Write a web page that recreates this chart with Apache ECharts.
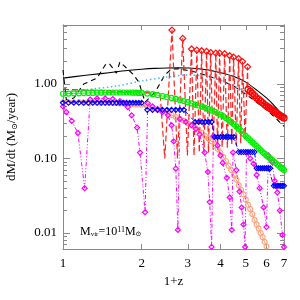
<!DOCTYPE html>
<html><head><meta charset="utf-8">
<script src="https://cdn.jsdelivr.net/npm/echarts@6/dist/echarts.min.js"></script>
<style>html,body{margin:0;padding:0;background:#fff}#c{width:300px;height:300px}</style>
</head><body><div id="c"></div>
<script>
// ---- tick labels ----
const xTickLabels = [1, 2, 3, 4, 5, 6, 7];
const yTickLabels = [0.01, 0.1, 1];
const yMinorTicks = [0.007,0.008,0.009,0.02,0.03,0.04,0.05,0.06,0.07,0.08,0.09,0.2,0.3,0.4,0.5,0.6,0.7,0.8,0.9,2,3,4,5,6];

// ---- black solid ----
const blackSolidZ = [1.0,1.2,1.4,1.6,1.8,2.0,2.25,2.5,2.75,3.0,3.3,3.6,4.0,4.5,5.0,5.5,6.0,6.5,7.0];
const blackSolidM = [1.2,1.3,1.38,1.46,1.53,1.58,1.62,1.64,1.65,1.64,1.6,1.54,1.42,1.26,1.06,0.83,0.65,0.49,0.36];

// ---- black dashed ----
const blackDashZ = [1.0,1.03,1.1,1.2,1.35,1.45,1.5,1.55,1.6,1.65,1.75,1.85,1.95,2.06,2.25,2.45,2.6,2.8,3.2,3.6,4.0,4.5,5.0,5.5,6.0,6.5,7.0];
const blackDashM = [1.54,0.61,0.65,1.0,1.2,1.8,1.9,1.64,1.4,1.97,1.64,1.36,1.06,0.57,0.78,1.32,1.59,1.6,1.45,1.28,1.13,0.94,0.73,0.57,0.45,0.35,0.27];

// ---- cyan dotted ----
const cyanZ = [1.0,1.3,1.6,2.0,2.5,3.0,3.5,4.0,4.5,5.0,5.5,6.0,6.5,7.0];
const cyanM = [0.78,0.86,0.94,1.1,1.24,1.32,1.28,1.13,0.94,0.78,0.64,0.54,0.46,0.4];

// ---- red dashed with spikes ----
const redZ = [1.0,1.2,1.4,1.6,1.8,2.0,2.2,2.35,2.45,2.61,2.74,2.87,2.99,3.1,3.17,3.25,3.32,3.39,3.46,3.54,3.6,3.67,3.75,3.84,3.9,3.97,4.06,4.15,4.25,4.34,4.42,4.49,4.6,4.69,4.78,4.86,4.97,5.08,5.09];
const redM = [0.85,0.83,0.82,0.8,0.79,0.78,0.77,0.76,0.1,5.3,0.1,4.1,0.11,2.95,0.11,2.85,0.12,2.8,0.12,2.75,0.12,2.65,0.13,2.6,0.13,2.6,0.14,2.55,0.14,2.4,0.15,2.3,0.15,2.2,0.16,2.0,0.18,1.7,0.86];

// ---- red circle band ----
const redBandZ = [5.1,5.2,5.3,5.4,5.5,5.6,5.7,5.8,5.9,6.0,6.1,6.2,6.3,6.4,6.5,6.6,6.7,6.8,6.9,7.0];
const redBandM = [0.85,0.8,0.75,0.7,0.65,0.62,0.59,0.56,0.53,0.51,0.49,0.47,0.45,0.43,0.42,0.4,0.385,0.37,0.36,0.35];

// ---- green circles ----
const greenZ = [1.0,1.05,1.1,1.15,1.2,1.25,1.3,1.35,1.4,1.45,1.5,1.55,1.6,1.65,1.7,1.75,1.8,1.85,1.9,1.95,2.0,
  2.1,2.2,2.3,2.4,2.5,2.6,2.7,2.8,2.9,3.0,3.1,3.2,3.3,3.4,3.5,3.6,3.7,3.8,3.9,4.0,4.1,4.2,4.3,4.4,4.5,4.6,4.7,4.8,4.9,5.0,
  5.1,5.2,5.3,5.4,5.5,5.6,5.7,5.8,5.9,6.0,6.1,6.2,6.3,6.4,6.5,6.6,6.7,6.8,6.9,7.0];
const greenM = [0.74,0.745,0.75,0.75,0.755,0.76,0.76,0.765,0.765,0.77,0.77,0.77,0.77,0.77,0.77,0.77,0.77,0.765,0.765,0.76,0.76,
  0.745,0.73,0.71,0.69,0.67,0.65,0.63,0.61,0.59,0.57,0.55,0.53,0.515,0.5,0.48,0.46,0.44,0.425,0.405,0.39,0.37,0.35,0.33,0.31,0.29,0.27,0.25,0.235,0.215,0.2,
  0.188,0.176,0.165,0.155,0.147,0.138,0.13,0.122,0.116,0.11,0.105,0.1,0.096,0.091,0.087,0.083,0.08,0.076,0.073,0.07];

// ---- salmon circles ----
const salmonZ = [1.0,1.05,1.1,1.15,1.2,1.25,1.3,1.35,1.4,1.45,1.5,1.55,1.6,1.65,1.7,1.75,1.8,1.85,1.9,1.95,2.0,
  2.1,2.2,2.3,2.4,2.5,2.6,2.7,2.8,2.9,3.0,3.1,3.2,3.3,3.4,3.5,3.6,3.7,3.8,3.9,4.0,4.1,4.2,4.3,4.4,4.5,4.6,4.7,4.8,4.9,5.0,
  5.1,5.2,5.3,5.4,5.5,5.6,5.7,5.8,5.9,6.0];
const salmonM = [0.57,0.57,0.57,0.57,0.565,0.565,0.565,0.56,0.56,0.56,0.56,0.555,0.555,0.55,0.55,0.545,0.54,0.54,0.535,0.53,0.53,
  0.5,0.48,0.455,0.435,0.41,0.385,0.36,0.34,0.32,0.3,0.28,0.26,0.24,0.22,0.2,0.185,0.17,0.15,0.135,0.12,0.105,0.092,0.08,0.07,0.06,0.052,0.044,0.038,0.033,0.028,
  0.024,0.021,0.018,0.015,0.013,0.0115,0.01,0.0088,0.0076,0.0066];

// ---- blue diamond steps ----
const blueZ = [1.0,1.05,1.1,1.15,1.2,1.25,1.3,1.35,1.4,1.45,1.5,1.55,1.6,1.65,1.7,1.75,1.8,1.85,1.9,1.95,2.0,
  2.1,2.2,2.3,2.4,2.5,2.6,2.7,2.8,2.9,
  3.2,3.3,3.4,3.5,3.6,3.7,
  3.8,3.9,4.0,4.1,4.2,4.3,4.4,4.5,
  4.7,4.8,4.9,5.0,5.1,5.2,5.3,5.4,
  5.5,5.6,5.7,5.8,5.9,6.0,6.1,6.2,
  6.4,6.5,6.6,6.7,6.8,6.9,7.0];
const blueM = [0.56,0.56,0.56,0.56,0.56,0.56,0.56,0.56,0.56,0.56,0.56,0.56,0.56,0.56,0.56,0.56,0.56,0.56,0.56,0.56,0.56,
  0.45,0.45,0.45,0.45,0.45,0.45,0.45,0.45,0.45,
  0.31,0.31,0.31,0.31,0.31,0.31,
  0.195,0.195,0.195,0.195,0.195,0.195,0.195,0.195,
  0.122,0.122,0.122,0.122,0.122,0.122,0.122,0.122,
  0.074,0.074,0.074,0.074,0.074,0.074,0.074,0.074,
  0.043,0.043,0.043,0.043,0.043,0.043,0.043];

// ---- magenta dash-dot with diamonds ----
const magentaZ = [1.0,1.03,1.08,1.14,1.21,1.27,1.35,1.45,1.55,1.65,1.72,1.77,1.83,1.92,1.97,2.06,
  2.11,2.2,2.3,2.4,2.52,2.6,2.65,2.7,2.75,
  2.8,2.95,3.1,3.22,3.33,3.48,3.58,3.64,3.7,
  3.76,3.9,4.0,4.08,4.23,4.34,4.42,
  4.47,4.6,4.73,4.82,4.9,4.97,
  5.03,5.2,5.35,5.5,5.65,5.85,6.0,
  6.1,6.3,6.45,6.6,6.75,6.9,7.0];
const magentaM = [0.5,0.42,0.32,0.22,0.04,0.62,0.64,0.64,0.63,0.59,0.55,0.49,0.38,0.26,0.12,0.019,
  0.55,0.5,0.46,0.42,0.38,0.28,0.17,0.073,0.011,
  0.34,0.31,0.28,0.25,0.21,0.12,0.066,0.026,0.0065,
  0.2,0.15,0.11,0.087,0.055,0.03,0.011,
  0.12,0.07,0.036,0.022,0.013,0.0065,
  0.12,0.1,0.085,0.06,0.04,0.022,0.012,
  0.11,0.09,0.05,0.035,0.02,0.0094,0.0065];

const pairs = (zs, ms) => zs.map((z, i) => [z, ms[i]]);
const serif = 'Liberation Serif, DejaVu Serif, serif';
const frame = '#8a8a8a';

function openItem(c, w) { return { color: 'rgba(0,0,0,0)', borderColor: c, borderWidth: w || 1 }; }

const redData = redZ.map((z, i) => {
  const peak = i > 0 && i < redZ.length - 1 && redM[i] > redM[i - 1] && redM[i] > redM[i + 1];
  return { value: [z, redM[i]], symbol: peak ? 'diamond' : 'none' };
});

const baseX = {
  type: 'log', logBase: 10, min: 1, max: 7,
  axisLine: { show: true, lineStyle: { color: frame, width: 1 } },
  axisTick: { show: true, inside: true, length: 5, customValues: xTickLabels, lineStyle: { color: frame } },
  splitLine: { show: false }
};
const baseY = {
  type: 'log', logBase: 10, min: 0.0061, max: 6.2,
  axisLine: { show: true, lineStyle: { color: frame, width: 1 } },
  splitLine: { show: false }
};

const chart = echarts.init(document.getElementById('c'), null, { renderer: 'canvas' });
chart.setOption({
  animation: false,
  backgroundColor: '#fff',
  grid: { left: 63, right: 16, top: 25, bottom: 51, containLabel: false, outerBoundsMode: 'none' },
  xAxis: [
    Object.assign({}, baseX, {
      position: 'bottom',
      axisLabel: { show: true, customValues: xTickLabels, color: '#000', fontSize: 13, fontFamily: serif, margin: 8 },
      name: '1+z', nameLocation: 'middle', nameGap: 24,
      nameTextStyle: { color: '#000', fontSize: 13, fontFamily: serif }
    }),
    Object.assign({}, baseX, { position: 'top', axisLabel: { show: false } })
  ],
  yAxis: [
    Object.assign({}, baseY, {
      position: 'left',
      axisTick: { show: true, inside: true, length: 7, customValues: yTickLabels, lineStyle: { color: frame } },
      axisLabel: { show: true, customValues: yTickLabels, color: '#000', fontSize: 13, fontFamily: serif, margin: 6,
        formatter: v => Number(v).toFixed(2) },
      name: '{a|dM/dt (M}{s|⊙}{a|/year)}', nameLocation: 'middle', nameGap: 44, nameRotate: 90,
      nameTextStyle: { color: '#000', fontSize: 13, fontFamily: serif,
        rich: { a: { fontSize: 13, fontFamily: serif, color: '#000' }, s: { fontSize: 8, fontFamily: serif, color: '#000', verticalAlign: 'bottom', padding: [6, 0, 0, 0] } } }
    }),
    Object.assign({}, baseY, {
      position: 'left',
      axisTick: { show: true, inside: true, length: 4, customValues: yMinorTicks, lineStyle: { color: frame } },
      axisLabel: { show: false }
    }),
    Object.assign({}, baseY, {
      position: 'right',
      axisTick: { show: true, inside: true, length: 7, customValues: yTickLabels, lineStyle: { color: frame } },
      axisLabel: { show: false }
    }),
    Object.assign({}, baseY, {
      position: 'right',
      axisTick: { show: true, inside: true, length: 4, customValues: yMinorTicks, lineStyle: { color: frame } },
      axisLabel: { show: false }
    })
  ],
  series: [
    { type: 'line', name: 'blackSolid', data: pairs(blackSolidZ, blackSolidM), smooth: 0.3, showSymbol: false,
      lineStyle: { color: '#000', width: 1.1 } },
    { type: 'line', name: 'blackDash', data: pairs(blackDashZ, blackDashM), showSymbol: false,
      lineStyle: { color: '#000', width: 1.1, type: [5, 4] } },
    { type: 'line', name: 'cyan', data: pairs(cyanZ, cyanM), smooth: 0.3, showSymbol: false,
      lineStyle: { color: '#4ab8f0', width: 1.5, type: [1.5, 2.5] } },
    { type: 'line', name: 'red', data: redData, symbolSize: 6,
      itemStyle: openItem('#ff1010', 1.2), lineStyle: { color: '#ff2020', width: 1.2, type: [6, 3] } },
    { type: 'line', name: 'redBand', data: pairs(redBandZ, redBandM), symbol: 'circle', symbolSize: 6,
      itemStyle: openItem('#ff0000', 1.3), lineStyle: { color: '#ff0000', width: 1.2 } },
    { type: 'line', name: 'salmon', data: pairs(salmonZ, salmonM), symbol: 'circle', symbolSize: 5,
      itemStyle: openItem('#ffa07a', 1.1), lineStyle: { color: '#ffa07a', width: 1 } },
    { type: 'line', name: 'magenta', data: pairs(magentaZ, magentaM), symbol: 'diamond', symbolSize: 5,
      itemStyle: openItem('#ff00ff', 1.2), lineStyle: { color: '#ff00ff', width: 1, type: [4, 2, 1, 2, 1, 2] } },
    { type: 'line', name: 'green', data: pairs(greenZ, greenM), symbol: 'circle', symbolSize: 5,
      itemStyle: openItem('#00ee00', 1.2), lineStyle: { color: '#00ee00', width: 1 } },
    { type: 'line', name: 'blue', data: pairs(blueZ, blueM), symbol: 'diamond', symbolSize: 5,
      itemStyle: openItem('#0000ff', 1.1), lineStyle: { color: '#0000ff', width: 1, type: [4, 2, 1, 2] } }
  ],
  graphic: [{
    type: 'text', left: 80, top: 226, silent: true,
    style: {
      text: '{m|M}{s|vir}{m|=10}{p|11}{m|M}{s|⊙}',
      rich: {
        m: { fontSize: 12, fontFamily: serif, fill: '#000', color: '#000' },
        s: { fontSize: 7, fontFamily: serif, fill: '#000', color: '#000', verticalAlign: 'bottom', padding: [5, 0, 0, 0] },
        p: { fontSize: 8, fontFamily: serif, fill: '#000', color: '#000', verticalAlign: 'top', padding: [0, 0, 4, 0] }
      }
    }
  }]
});
</script></body></html>
